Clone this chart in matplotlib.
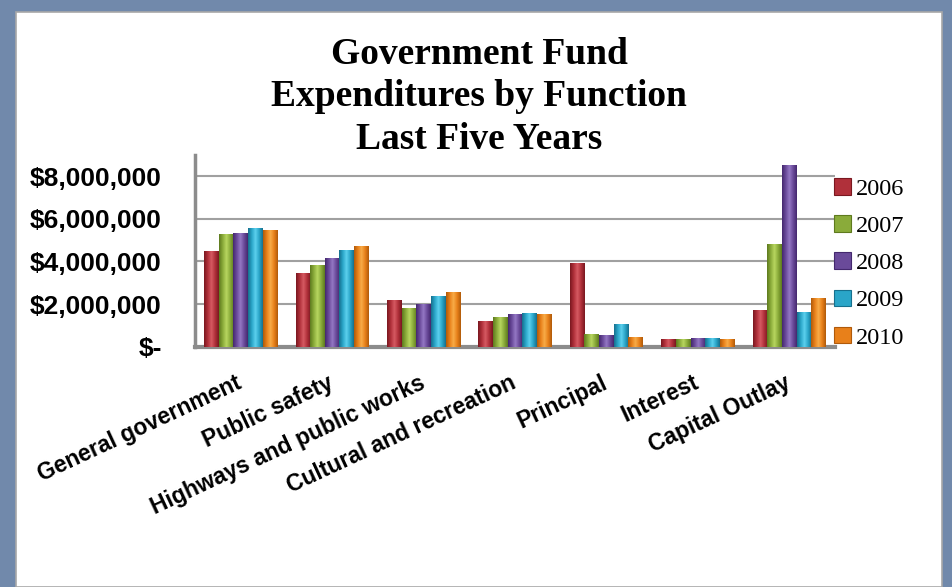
import numpy as np
import matplotlib
matplotlib.use("Agg")
import matplotlib.pyplot as plt
from matplotlib.patches import Rectangle, Patch
from matplotlib.colors import LinearSegmentedColormap


# spending by function, one list per year
functions = ['General government', 'Public safety', 'Highways and public works',
             'Cultural and recreation', 'Principal', 'Interest', 'Capital Outlay']
years = ['2006', '2007', '2008', '2009', '2010']

exp_2006 = [4500000, 3450000, 2170000, 1220000, 3930000, 360000, 1700000]
exp_2007 = [5290000, 3830000, 1810000, 1400000, 600000, 360000, 4810000]
exp_2008 = [5320000, 4140000, 2000000, 1520000, 530000, 420000, 8510000]
exp_2009 = [5570000, 4510000, 2370000, 1560000, 1050000, 420000, 1640000]
exp_2010 = [5480000, 4700000, 2580000, 1520000, 440000, 340000, 2300000]

yticks = [0, 2000000, 4000000, 6000000, 8000000]
ytick_labels = ['$-', '$2,000,000', '$4,000,000', '$6,000,000', '$8,000,000']

# (dark edge, light centre, base) for the shaded columns
shades = [('#7a1820', '#d65a62', '#b0303a'),
          ('#5e7a1e', '#b8d660', '#8aab3a'),
          ('#44286e', '#9478c4', '#6a4a9a'),
          ('#16708e', '#5cd0ee', '#2aa5c8'),
          ('#b05a0a', '#f8ac48', '#e8801a')]

series = [exp_2006, exp_2007, exp_2008, exp_2009, exp_2010]


fig = plt.figure(figsize=(9.53, 5.87), dpi=100, facecolor='#7189ab')

# white slide area
fig.patches.append(Rectangle((16/953, 0), (942-16)/953, 575/587, transform=fig.transFigure,
                             facecolor='white', edgecolor='#a8a8a8', linewidth=1.2, zorder=-1))

ax = fig.add_axes([195/953, 240.3/587, 640/953, 192/587])
ax.set_facecolor('none')

x = np.arange(len(functions))
width = 0.16
grad = np.linspace(0, 1, 64).reshape(1, -1)

for i in range(len(years)):
    dark, light, base = shades[i]
    cmap = LinearSegmentedColormap.from_list('col' + years[i], [dark, base, light, base, dark])
    bars = ax.bar(x + (i - 2)*width, series[i], width, color=base, zorder=3)
    for b in bars:
        im = ax.imshow(grad, cmap=cmap, aspect='auto', zorder=3,
                       extent=[b.get_x(), b.get_x() + b.get_width(), 0, b.get_height()])
        im.set_clip_path(b)

ax.set_xlim(-0.5, 6.5)
ax.set_ylim(0, 9000000)

ax.set_yticks(yticks)
ax.set_yticklabels(ytick_labels, fontsize=19, fontweight='bold', family='Liberation Sans')
ax.tick_params(axis='y', length=0, pad=24)
ax.yaxis.grid(True, color='#a0a0a0', linewidth=1.5, zorder=0)
ax.set_axisbelow(True)

ax.set_xticks(x)
ax.set_xticklabels(functions, fontsize=16.5, fontweight='bold', family='Liberation Sans',
                   rotation=25, ha='right', va='center', rotation_mode='anchor')
ax.tick_params(axis='x', length=0, pad=25)

for side in ['top', 'right']:
    ax.spines[side].set_visible(False)
ax.spines['left'].set_color('#8c8c8c')
ax.spines['left'].set_linewidth(2.5)
ax.spines['bottom'].set_color('#8c8c8c')
ax.spines['bottom'].set_linewidth(3)

handles = [Patch(facecolor=s[2], edgecolor=s[0], linewidth=0.8) for s in shades]
fig.legend(handles, years, loc='upper left', bbox_to_anchor=(834/953, 1 - 178/587),
           frameon=False, prop={'family': 'Liberation Serif', 'size': 17.5},
           handlelength=0.68, handleheight=0.68, handletextpad=0.2,
           labelspacing=0.63, borderpad=0, borderaxespad=0)

fig.text(479/953, 1 - 97/587, 'Government Fund\nExpenditures by Function\nLast Five Years',
         ha='center', va='center', fontsize=27, fontweight='bold', family='Liberation Serif',
         linespacing=1.27)

fig.savefig('out.png', dpi=100, facecolor=fig.get_facecolor())
